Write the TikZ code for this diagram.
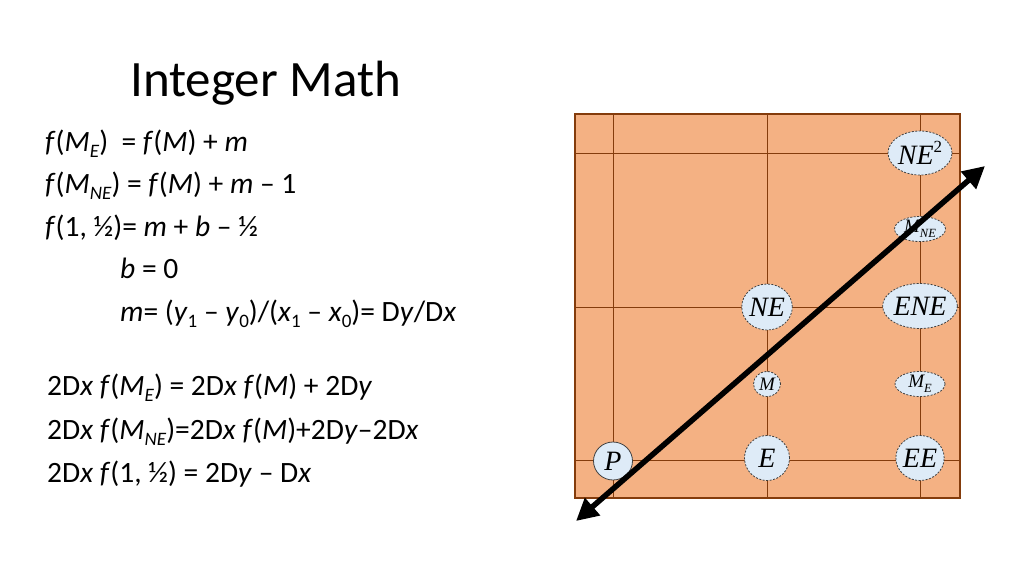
\documentclass[tikz,border=0pt]{standalone}
\usepackage{fontspec}
\setmainfont{Carlito}
\newfontfamily\tms{Liberation Serif}
\usetikzlibrary{arrows.meta,shapes.geometric}
\definecolor{boxfill}{HTML}{F4B183}
\definecolor{boxline}{HTML}{843C0C}
\definecolor{dotfill}{HTML}{DEEBF7}
\definecolor{dotline}{HTML}{404040}
\newcommand\sbs[1]{\raisebox{-0.22em}{\fontsize{19}{19}\selectfont #1}}
\newcommand\tsb[1]{\raisebox{-0.28em}{\fontsize{12.5}{12.5}\selectfont #1}}
\begin{document}
\begin{tikzpicture}[x=1pt,y=-1pt,
  eq/.style={anchor=base west, inner sep=0pt, font=\fontsize{29.5}{35}\selectfont},
  dot/.style={ellipse, draw=dotline, fill=dotfill, line width=0.8pt, dash pattern=on 2pt off 1.5pt, inner sep=0pt},
  bigl/.style={font=\tms\itshape\fontsize{28}{28}\selectfont},
  smalll/.style={font=\tms\itshape\fontsize{19}{19}\selectfont},
  grid/.style={draw=boxline, line width=0.9pt}]
\useasboundingbox (0,0) rectangle (1024,576);
\fill[white] (0,0) rectangle (1024,576);

% title
\node[anchor=base west, inner sep=0pt, font=\fontsize{51}{60}\selectfont] (title) at (130,96) {Integer Math};

% equations
\node[eq] (l1) at (45,151) {\textit{f}(\textit{M}\sbs{\textit{E}})\ \ = \textit{f}(\textit{M}) + \textit{m}};
\node[eq] (l2) at (45,193) {\textit{f}(\textit{M}\sbs{\textit{NE}}) = \textit{f}(\textit{M}) + \textit{m} – 1};
\node[eq] (l3) at (45,236) {\textit{f}(1, ½)= \textit{m} + \textit{b} – ½};
\node[eq] (l4) at (120,278) {\textit{b} = 0};
\node[eq] (l5) at (120,321) {\textit{m}= (\textit{y}\sbs{1} – \textit{y}\sbs{0})/(\textit{x}\sbs{1} – \textit{x}\sbs{0})= D\textit{y}/D\textit{x}};
\node[eq] (l6) at (47,395) {2D\textit{x} \textit{f}(\textit{M}\sbs{\textit{E}}) = 2D\textit{x} \textit{f}(\textit{M}) + 2D\textit{y}};
\node[eq] (l7) at (47,439) {2D\textit{x} \textit{f}(\textit{M}\sbs{\textit{NE}})=2D\textit{x} \textit{f}(\textit{M})+2D\textit{y}–2D\textit{x}};
\node[eq] (l8) at (47,482) {2D\textit{x} \textit{f}(1, ½) = 2D\textit{y} – D\textit{x}};

% box and grid
\fill[boxfill] (575,114) rectangle (960,498);
\foreach \gx in {613,767,920} \draw[grid] (\gx,114) -- (\gx,498);
\foreach \gy in {153,307,460} \draw[grid] (575,\gy) -- (960,\gy);
\draw[boxline, line width=2.6pt] (575,114) rectangle (960,498);

% points
\node[dot, bigl, solid, minimum width=39pt, minimum height=38pt] (P) at (613,461) {P};
\node[dot, bigl, minimum width=45pt, minimum height=45pt] (E) at (767,458) {E};
\node[dot, bigl, minimum width=45pt, minimum height=45pt] (EE) at (920,458) {EE};
\node[dot, smalll, minimum width=27pt, minimum height=25pt] (M) at (767,384) {M};
\node[dot, smalll, minimum width=50pt, minimum height=25pt] (ME) at (920,384) {M\tsb{E}};
\node[dot, bigl, minimum width=44pt, minimum height=46pt] (NE) at (767,307) {NE};
\node[dot, bigl, minimum width=64pt, minimum height=45pt] (ENE) at (920,306) {ENE};
\node[dot, smalll, minimum width=51pt, minimum height=24pt] (MNE) at (920,229) {M\tsb{NE}};
\node[dot, bigl, minimum width=64pt, minimum height=44pt] (NE2) at (920,153) {NE\raisebox{0.45em}{\upshape\fontsize{17}{17}\selectfont 2}};

% line
\coordinate (a1) at (576,521);
\coordinate (a2) at (985,166);
\draw[line width=5.5pt, {Triangle[length=22pt,width=22pt]}-{Triangle[length=22pt,width=22pt]}] (a1) -- (a2);
\end{tikzpicture}
\end{document}
